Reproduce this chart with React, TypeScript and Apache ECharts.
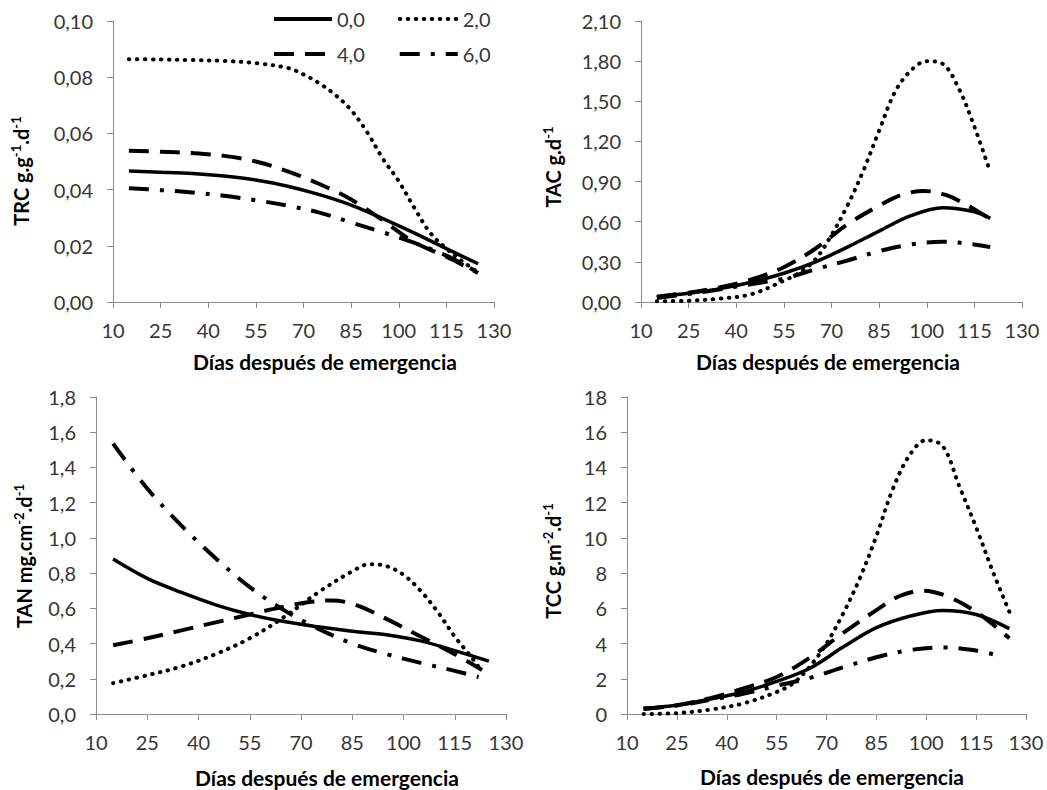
import React, { useEffect, useRef } from 'react';
import * as echarts from 'echarts';

// ---------- DATA ----------
const seriesNames = ['0,0', '2,0', '4,0', '6,0'];
const xAxisTitle = 'Días después de emergencia';

// TRC (g.g-1.d-1)
const trc0Days = [15, 25, 35, 45, 55, 65, 75, 85, 95, 105, 115, 125];
const trc0 = [0.0466, 0.0462, 0.0457, 0.0448, 0.0434, 0.0412, 0.0382, 0.0345, 0.0297, 0.0245, 0.0190, 0.0136];
const trc2Days = [15, 25, 35, 45, 55, 65, 70, 75, 80, 85, 90, 95, 100, 105, 110, 115, 120, 125];
const trc2 = [0.0864, 0.0863, 0.0861, 0.0858, 0.0850, 0.0833, 0.0810, 0.0778, 0.0737, 0.0683, 0.0605, 0.0510, 0.0430, 0.0333, 0.0245, 0.0190, 0.0145, 0.0105];
const trc4Days = [15, 25, 35, 45, 55, 65, 75, 85, 95, 105, 115, 125];
const trc4 = [0.0538, 0.0535, 0.0530, 0.0520, 0.0500, 0.0465, 0.0420, 0.0365, 0.0290, 0.0212, 0.0161, 0.0103];
const trc6Days = [15, 25, 35, 45, 55, 65, 75, 85, 95, 105, 115, 125];
const trc6 = [0.0405, 0.0398, 0.0390, 0.0378, 0.0362, 0.0343, 0.0318, 0.0283, 0.0248, 0.0210, 0.0165, 0.0105];

// TAC (g.d-1)
const tac0Days = [15, 25, 35, 45, 55, 65, 75, 85, 95, 105, 115, 120];
const tac0 = [0.04, 0.065, 0.10, 0.15, 0.215, 0.30, 0.41, 0.53, 0.645, 0.705, 0.675, 0.625];
const tac2Days = [15, 25, 35, 45, 55, 60, 65, 70, 75, 80, 85, 90, 95, 100, 105, 110, 115, 120];
const tac2 = [0.005, 0.01, 0.025, 0.06, 0.16, 0.22, 0.32, 0.50, 0.72, 0.98, 1.28, 1.57, 1.73, 1.80, 1.78, 1.60, 1.31, 0.97];
const tac4Days = [15, 25, 35, 45, 55, 65, 75, 85, 92, 99, 106, 113, 120];
const tac4 = [0.04, 0.07, 0.11, 0.17, 0.26, 0.40, 0.58, 0.72, 0.80, 0.83, 0.80, 0.72, 0.62];
const tac6Days = [15, 25, 35, 45, 55, 65, 75, 85, 95, 105, 115, 120];
const tac6 = [0.03, 0.06, 0.095, 0.135, 0.175, 0.245, 0.31, 0.38, 0.43, 0.45, 0.43, 0.41];

// TAN (mg.cm-2.d-1)
const tan0Days = [15, 25, 35, 45, 55, 65, 75, 85, 95, 105, 115, 125];
const tan0 = [0.88, 0.77, 0.69, 0.62, 0.565, 0.525, 0.495, 0.47, 0.45, 0.415, 0.36, 0.30];
const tan2Days = [15, 25, 35, 45, 55, 65, 75, 85, 90, 95, 100, 105, 110, 115, 120, 123];
const tan2 = [0.175, 0.22, 0.27, 0.34, 0.43, 0.55, 0.69, 0.81, 0.85, 0.84, 0.79, 0.70, 0.58, 0.44, 0.32, 0.24];
const tan4Days = [15, 25, 35, 45, 55, 65, 72, 79, 86, 95, 105, 115, 123];
const tan4 = [0.39, 0.43, 0.475, 0.52, 0.565, 0.61, 0.635, 0.645, 0.62, 0.54, 0.44, 0.34, 0.25];
const tan6Days = [15, 25, 35, 45, 55, 65, 75, 85, 95, 105, 115, 122];
const tan6 = [1.535, 1.28, 1.07, 0.885, 0.72, 0.59, 0.485, 0.40, 0.34, 0.29, 0.245, 0.21];

// TCC (g.m-2.d-1)
const tcc0Days = [15, 25, 35, 45, 55, 65, 75, 85, 95, 105, 115, 125];
const tcc0 = [0.32, 0.5, 0.85, 1.25, 1.85, 2.6, 3.8, 4.9, 5.55, 5.88, 5.65, 4.85];
const tcc2Days = [15, 25, 35, 45, 55, 60, 65, 70, 75, 80, 85, 90, 95, 100, 105, 110, 115, 120, 125];
const tcc2 = [0.0, 0.05, 0.25, 0.6, 1.25, 1.75, 2.7, 4.0, 5.7, 7.7, 10.1, 12.8, 14.7, 15.55, 15.2, 12.9, 10.6, 8.1, 5.8];
const tcc4Days = [15, 25, 35, 45, 55, 65, 75, 85, 92, 99, 106, 115, 125];
const tcc4 = [0.3, 0.5, 0.9, 1.45, 2.1, 3.2, 4.6, 5.9, 6.7, 7.0, 6.7, 5.8, 4.3];
const tcc6Days = [15, 25, 35, 45, 55, 65, 75, 85, 95, 105, 115, 123];
const tcc6 = [0.28, 0.48, 0.8, 1.15, 1.6, 2.05, 2.65, 3.22, 3.63, 3.78, 3.6, 3.25];

const panels = [
  { title: ['TRC g.g', '-1', '.d', '-1'], yMax: 0.1, yStep: 0.02, dec: 2,
    series: [[trc0Days, trc0], [trc2Days, trc2], [trc4Days, trc4], [trc6Days, trc6]] },
  { title: ['TAC g.d', '-1'], yMax: 2.1, yStep: 0.3, dec: 2,
    series: [[tac0Days, tac0], [tac2Days, tac2], [tac4Days, tac4], [tac6Days, tac6]] },
  { title: ['TAN mg.cm', '-2', '.d', '-1'], yMax: 1.8, yStep: 0.2, dec: 1,
    series: [[tan0Days, tan0], [tan2Days, tan2], [tan4Days, tan4], [tan6Days, tan6]] },
  { title: ['TCC g.m', '-2', '.d', '-1'], yMax: 18, yStep: 2, dec: 0,
    series: [[tcc0Days, tcc0], [tcc2Days, tcc2], [tcc4Days, tcc4], [tcc6Days, tcc6]] },
];

// ---------- LAYOUT / STYLE ----------
const W = 1047;
const H = 790;
const FONT = 'Lato, "Open Sans", sans-serif';
const grids = [
  { left: 113, top: 21, width: 381, height: 281 },
  { left: 641, top: 21, width: 381, height: 281 },
  { left: 96, top: 397, width: 410, height: 317 },
  { left: 627, top: 397, width: 399, height: 317 },
];
const xTitlePos = [[325, 361], [828, 361], [327, 777], [832, 776]];
const yTitlePos = [[21, 171], [553, 167], [24, 556], [553, 561]];

const lineStyles: any[] = [
  { color: '#000', width: 3.5, type: 'solid', cap: 'butt' },
  { color: '#000', width: 4, type: [0.5, 7.5], cap: 'round' },
  { color: '#000', width: 4, type: [20, 11], cap: 'butt' },
  { color: '#000', width: 4, type: [20, 11, 4, 11], cap: 'butt' },
];

export default function App() {
  const ref = useRef<HTMLDivElement>(null);
  useEffect(() => {
    if (!ref.current) return;
    const chart = echarts.init(ref.current, undefined, { renderer: 'svg' });

    const axisLine = { show: true, lineStyle: { color: '#8c8c8c', width: 1 } };
    const axisTick = { show: true, length: 6, inside: false, lineStyle: { color: '#8c8c8c', width: 1 } };
    const labelBase = { fontSize: 20, fontFamily: FONT, color: '#363636' };

    const xAxis = panels.map((p, i) => ({
      type: 'value', gridIndex: i, min: 10, max: 130, interval: 15,
      axisLine, axisTick, splitLine: { show: false },
      axisLabel: { ...labelBase, margin: 18 },
    }));
    const yAxis = panels.map((p, i) => ({
      type: 'value', gridIndex: i, min: 0, max: p.yMax, interval: p.yStep,
      axisLine, axisTick, splitLine: { show: false },
      axisLabel: {
        ...labelBase, margin: 20,
        formatter: (v: number) => v.toFixed(p.dec).replace('.', ','),
      },
    }));

    const series: any[] = [];
    panels.forEach((p, i) => {
      p.series.forEach(([days, vals], k) => {
        series.push({
          type: 'line', name: seriesNames[k], xAxisIndex: i, yAxisIndex: i,
          data: (days as number[]).map((d, j) => [d, (vals as number[])[j]]),
          smooth: 0.35, symbol: 'none', showSymbol: false,
          itemStyle: { color: '#000' },
          lineStyle: lineStyles[k], z: 3 + k,
        });
      });
    });

    const legendCommon = {
      left: 272, itemWidth: 58, itemHeight: 14, itemGap: 33, padding: 0,
      selectedMode: false,
      itemStyle: { color: 'rgba(0,0,0,0)', borderWidth: 0, opacity: 0 },
      lineStyle: { width: 4 },
      textStyle: { fontSize: 20, fontFamily: FONT, color: '#363636' },
    };

    const graphic: any[] = [];
    xTitlePos.forEach(([x, y]) => {
      graphic.push({
        type: 'text', x, y,
        style: {
          text: xAxisTitle, fontSize: 21, fontWeight: 'bold', fontFamily: FONT,
          fill: '#000', align: 'center', verticalAlign: 'middle',
        },
      });
    });
    panels.forEach((p, i) => {
      const [x, y] = yTitlePos[i];
      const txt = p.title.map((t, j) => (j % 2 === 0 ? `{b|${t}}` : `{s|${t}}`)).join('');
      graphic.push({
        type: 'text', x, y, rotation: Math.PI / 2,
        style: {
          text: txt, align: 'center', verticalAlign: 'middle', fill: '#000',
          rich: {
            b: { fontSize: 20, fontWeight: 'bold', fontFamily: FONT, fill: '#000', lineHeight: 24 },
            s: { fontSize: 13, fontWeight: 'bold', fontFamily: FONT, fill: '#000', lineHeight: 14, verticalAlign: 'top' },
          },
        },
      });
    });

    chart.setOption({
      animation: false,
      backgroundColor: '#fff',
      grid: grids.map((g) => ({ ...g, containLabel: false })),
      xAxis, yAxis, series,
      legend: [
        { ...legendCommon, top: 9, data: ['0,0', '2,0'] },
        { ...legendCommon, top: 44, data: ['4,0', '6,0'] },
      ],
      graphic,
    });
    return () => chart.dispose();
  }, []);
  return (
    <div
      ref={ref}
      style={{ position: 'fixed', left: 0, top: 0, width: W, height: H, background: '#fff' }}
    />
  );
}
